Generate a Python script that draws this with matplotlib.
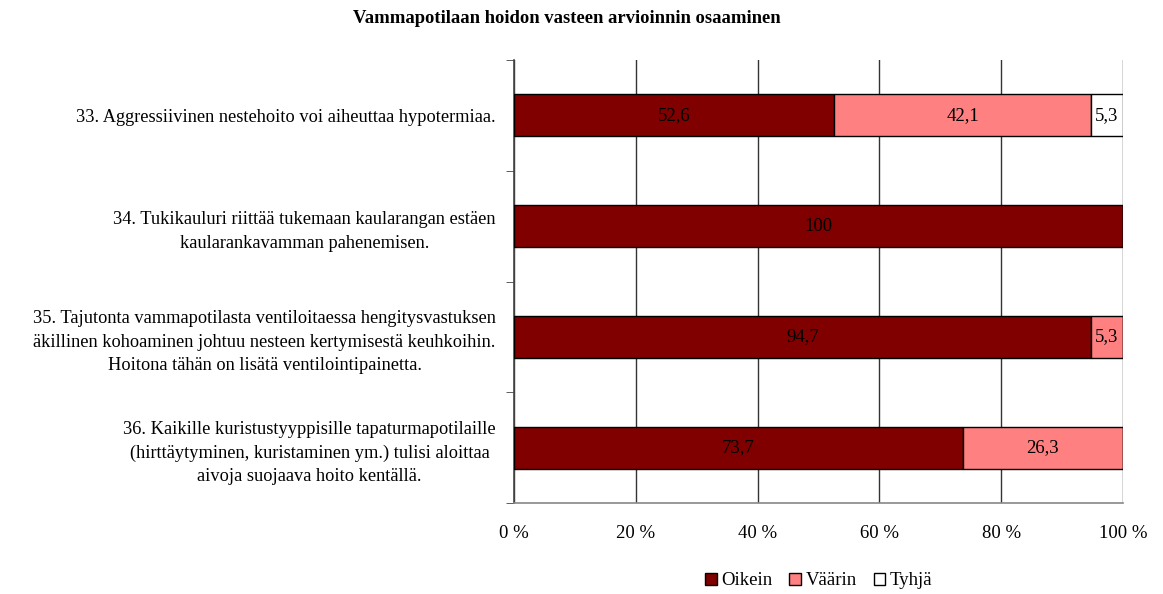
import numpy as np
import matplotlib.pyplot as plt
from matplotlib.ticker import FixedLocator, FuncFormatter

# Data
categories = [
    "33. Aggressiivinen nestehoito voi aiheuttaa hypotermiaa.",
    "34. Tukikauluri riittää tukemaan kaularangan estäen\nkaularankavamman pahenemisen.",
    "35. Tajutonta vammapotilasta ventiloitaessa hengitysvastuksen\näkillinen kohoaminen johtuu nesteen kertymisestä keuhkoihin.\nHoitona tähän on lisätä ventilointipainetta.",
    "36. Kaikille kuristustyyppisille tapaturmapotilaille\n(hirttäytyminen, kuristaminen ym.) tulisi aloittaa\naivoja suojaava hoito kentällä.",
]
oikein = [52.6, 100.0, 94.7, 73.7]
vaarin = [42.1, 0.0, 5.3, 26.3]
tyhja = [5.3, 0.0, 0.0, 0.0]
series_names = ["Oikein", "Väärin", "Tyhjä"]
colors = ["#800000", "#FF8080", "#FFFFFF"]
title = "Vammapotilaan hoidon vasteen arvioinnin osaaminen"

plt.rcParams['font.family'] = ['Liberation Serif', 'DejaVu Serif']
FS = 13.2

fig = plt.figure(figsize=(11.63, 5.94), dpi=100)
ax = fig.add_axes([0.442, 0.153, 0.5236, 0.746])

y = np.arange(len(categories))
left = np.zeros(len(categories))
for name, vals, col in zip(series_names, [oikein, vaarin, tyhja], colors):
    vals = np.array(vals)
    bars = ax.barh(y, vals, left=left, height=0.38, color=col,
                   edgecolor='black', linewidth=1.0, label=name, zorder=3)
    for b, v in zip(bars, vals):
        if v > 0:
            txt = f"{v:g}".replace('.', ',')
            ax.text(b.get_x() + b.get_width() / 2, b.get_y() + b.get_height() / 2,
                    txt, ha='center', va='center', fontsize=13.5, color='black', zorder=4)
    left += vals

ax.set_xlim(0, 100)
ax.set_ylim(len(categories) - 0.5, -0.5)
ax.set_xticks(np.arange(0, 101, 20))
ax.xaxis.set_major_formatter(FuncFormatter(lambda v, p: f"{int(v)} %"))
ax.tick_params(axis='x', length=0, labelsize=13.5, pad=16)
ax.grid(axis='x', color='#333333', linewidth=1.0, zorder=0)

ax.set_yticks(y)
ax.set_yticklabels(categories, fontsize=FS, multialignment='center', linespacing=1.5)
ax.tick_params(axis='y', which='major', length=0, pad=13)
ax.yaxis.set_minor_locator(FixedLocator(np.arange(-0.5, len(categories), 1)))
ax.tick_params(axis='y', which='minor', length=6, color='#444444', direction='out')

for s in ['top', 'right']:
    ax.spines[s].set_visible(False)
ax.spines['left'].set_color('#444444')
ax.spines['bottom'].set_color('#888888')
ax.spines['left'].set_linewidth(1.2)
ax.spines['bottom'].set_linewidth(1.2)

fig.text(0.487, 0.969, title, ha='center', va='center', fontsize=13.4, fontweight='bold')

handles, labels = ax.get_legend_handles_labels()
fig.legend(handles, labels, loc='center', bbox_to_anchor=(0.704, 0.022), ncol=3,
           frameon=False, fontsize=13.5, handlelength=0.6, handleheight=0.6,
           handletextpad=0.25, columnspacing=0.9)

fig.savefig('out.png', dpi=100)
